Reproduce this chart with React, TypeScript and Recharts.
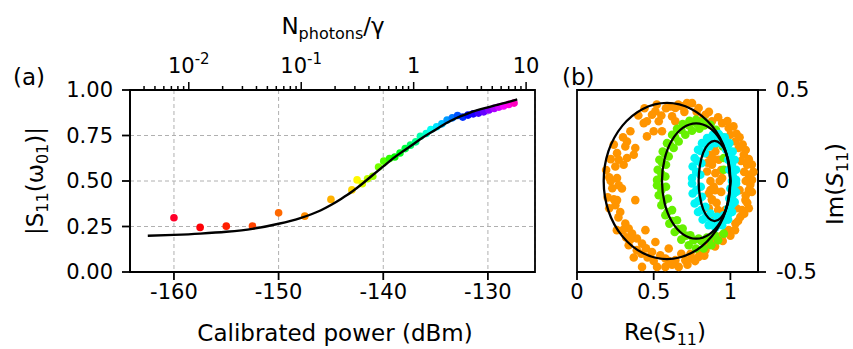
import React from "react";
import { ScatterChart, Scatter, XAxis, YAxis, CartesianGrid, ReferenceArea, Cell } from "recharts";

const FONT = "'DejaVu Sans', sans-serif";

// (a) |S11(w01)| against calibrated power
const powerDbm = [
  -160, -157.5, -155, -152.5, -150, -147.5, -145, -143, -142.5, -142, -141.5, -141,
  -140.45, -139.95, -139.4, -138.9, -138.4, -137.9, -137.4, -136.9, -136.45, -135.9,
  -135.45, -134.9, -134.4, -133.9, -133.4, -132.9, -132.4, -131.9, -131.4, -130.9,
  -130.4, -129.9, -129.4, -128.95, -128.5, -128.0, -127.5,
];
const magnitude = [
  0.298, 0.245, 0.252, 0.253, 0.325, 0.307, 0.399, 0.451, 0.506, 0.485, 0.512, 0.526,
  0.577, 0.609, 0.623, 0.632, 0.654, 0.678, 0.697, 0.715, 0.746, 0.761,
  0.783, 0.798, 0.814, 0.835, 0.847, 0.86, 0.851, 0.862, 0.869, 0.873,
  0.88, 0.89, 0.899, 0.906, 0.912, 0.921, 0.928,
];
const fitPower = [
  -162.5, -160, -157.5, -155, -152.5, -150, -148, -146, -145, -144, -143, -142, -141,
  -140, -139, -138, -137, -136, -135, -134, -133, -132, -131, -130, -129, -128, -127.2,
];
const fitMagnitude = [
  0.199, 0.204, 0.211, 0.221, 0.237, 0.265, 0.295, 0.338, 0.368, 0.403, 0.441, 0.485, 0.533,
  0.58, 0.627, 0.668, 0.708, 0.747, 0.782, 0.817, 0.846, 0.869, 0.889, 0.905, 0.92, 0.935, 0.948,
];
const powerTicks = [-160, -150, -140, -130];
const magTicks = [0, 0.25, 0.5, 0.75, 1];

// top axis, N_photons / gamma (log)
const photonRange = [0.003, 12];
const photonMajor = [0.01, 0.1, 1, 10];
const photonMajorLabels = [["10", "-2"], ["10", "-1"], ["1", ""], ["10", ""]];
const photonMinor = [
  0.004, 0.005, 0.006, 0.007, 0.008, 0.009,
  0.02, 0.03, 0.04, 0.05, 0.06, 0.07, 0.08, 0.09,
  0.2, 0.3, 0.4, 0.5, 0.6, 0.7, 0.8, 0.9,
  2, 3, 4, 5, 6, 7, 8, 9,
];

// (b) S11 in the complex plane
const orangePts = [
  [0.717, 0.428], [0.685, 0.41], [0.641, 0.401], [0.609, 0.41], [0.511, 0.383], [0.489, 0.364],
  [0.456, 0.328], [0.435, 0.318], [0.533, 0.328], [0.554, 0.273], [0.5, 0.273], [0.456, 0.245],
  [0.348, 0.273], [0.326, 0.217], [0.315, 0.19], [0.38, 0.181], [0.37, 0.144], [0.261, 0.153],
  [0.272, 0.117], [0.25, 0.08], [0.326, 0.126], [0.304, 0.089], [0.62, 0.355], [0.641, 0.328],
  [0.837, 0.364], [0.88, 0.328], [0.946, 0.318], [0.989, 0.291], [1.0, 0.254], [1.033, 0.217],
  [1.054, 0.181], [1.087, 0.144], [1.109, 0.089], [1.12, 0.034], [1.141, 0.006], [0.261, 0.016],
  [0.75, 0.428], [0.793, 0.401],
  [0.859, 0.144], [0.88, 0.089], [0.902, 0.043], [0.848, 0.052], [0.946, 0.016], [0.902, 0.162],
  [0.924, 0.117], [0.87, 0.0], [0.9, -0.05], [0.88, -0.1], [0.86, -0.15], [0.9, -0.2],
  [0.93, 0.0], [0.91, -0.12], [0.94, -0.06], [0.94, 0.06],
  [0.272, -0.023], [0.293, -0.041], [0.261, -0.105], [0.25, -0.133], [0.38, -0.105], [0.282, -0.17],
  [0.315, -0.234], [0.337, -0.261], [0.446, -0.27], [0.359, -0.289], [0.391, -0.316], [0.337, -0.353],
  [0.511, -0.335], [0.424, -0.344], [0.489, -0.39], [0.543, -0.408], [0.598, -0.371], [0.424, -0.472],
  [0.576, -0.472], [0.641, -0.435], [0.706, -0.435], [0.75, -0.426], [0.793, -0.417], [0.837, -0.38],
  [0.859, -0.353], [0.902, -0.326], [0.946, -0.298], [0.989, -0.27], [1.033, -0.234], [1.065, -0.197],
  [1.076, -0.16], [1.098, -0.105], [1.12, -0.05], [1.011, -0.105], [0.967, -0.16], [0.859, -0.069],
  [0.88, -0.105], [0.891, -0.032], [0.576, -0.426], [0.663, -0.472], [0.522, -0.472],
  [1.08, 0.2], [1.12, 0.12], [1.13, -0.02], [1.1, -0.08], [1.05, -0.22], [1.0, -0.3],
  [1.04, 0.26], [1.15, 0.05], [1.12, -0.15], [0.66, 0.42], [0.7, 0.38], [0.78, 0.38],
  [0.82, 0.34], [0.58, 0.4], [0.55, 0.36], [0.46, -0.42], [0.62, -0.46], [0.68, -0.4],
  [0.74, -0.4], [0.8, -0.39], [0.86, -0.33], [0.92, -0.31], [0.97, -0.28], [0.39, -0.38],
  [0.35, -0.32], [0.3, -0.27], [0.27, -0.2], [0.24, -0.1], [0.22, 0.0], [0.2, -0.09], [0.21, 0.02],
  [1.06, 0.24], [1.1, 0.17], [1.14, 0.09], [1.14, -0.06], [1.11, -0.12], [1.09, -0.18],
  [1.03, -0.27], [0.95, -0.33], [0.9, -0.36], [0.83, -0.41], [0.77, -0.44], [0.72, -0.46],
  [0.6, -0.44], [0.5, -0.44], [0.45, -0.37], [0.98, 0.33], [0.92, 0.35], [0.86, 0.38],
  [1.02, 0.3], [1.07, 0.11], [1.09, 0.05], [1.1, 0.0], [1.06, -0.05], [1.04, -0.15],
  [0.4, 0.36], [0.44, 0.4], [0.52, 0.42], [0.3, 0.24], [0.24, 0.2], [0.22, 0.12],
  [0.19, 0.06], [0.23, -0.04], [0.21, -0.15], [0.26, -0.27], [0.32, -0.31], [0.37, -0.42],
  [0.42, -0.4], [0.85, 0.1], [0.87, -0.05], [0.89, 0.12], [0.92, -0.16], [0.9, 0.2], [0.87, -0.2],
];
const greenPts = [
  [0.522, 0.006], [0.526, 0.062], [0.537, 0.117], [0.559, 0.162], [0.587, 0.208], [0.62, 0.254],
  [0.652, 0.287], [0.689, 0.313], [0.733, 0.331], [0.776, 0.337], [0.826, 0.328], [0.87, 0.309],
  [0.906, 0.282], [0.935, 0.245], [0.95, 0.19], [0.957, 0.126], [0.957, 0.062],
  [0.576, 0.025], [0.58, 0.089], [0.598, 0.135], [0.63, 0.181], [0.663, 0.217], [0.706, 0.254],
  [0.75, 0.276], [0.798, 0.287],
  [0.522, -0.023], [0.533, -0.078], [0.55, -0.133], [0.576, -0.188], [0.602, -0.234], [0.637, -0.28],
  [0.68, -0.322], [0.728, -0.353], [0.776, -0.371], [0.826, -0.371], [0.876, -0.353], [0.92, -0.326],
  [0.957, -0.289],
  [0.58, -0.032], [0.593, -0.096], [0.62, -0.16], [0.652, -0.216], [0.689, -0.261], [0.739, -0.298],
  [0.793, -0.316], [0.848, -0.311],
  [0.55, 0.04], [0.555, 0.1], [0.575, 0.15], [0.605, 0.2], [0.64, 0.24], [0.68, 0.28],
  [0.73, 0.305], [0.78, 0.315], [0.83, 0.305],
  [0.55, -0.05], [0.565, -0.11], [0.59, -0.17], [0.62, -0.22], [0.66, -0.265], [0.71, -0.3],
  [0.76, -0.325], [0.81, -0.33], [0.86, -0.32], [0.9, -0.3],
];
const cyanPts = [
  [0.75, 0.016], [0.754, 0.08], [0.767, 0.126], [0.789, 0.172], [0.815, 0.208], [0.848, 0.236],
  [0.885, 0.254], [0.924, 0.258], [0.963, 0.24], [0.993, 0.208], [1.015, 0.162], [1.028, 0.117],
  [1.037, 0.062], [1.037, 0.006],
  [0.804, 0.034], [0.811, 0.098], [0.833, 0.153], [0.863, 0.19], [0.902, 0.208], [0.946, 0.203],
  [0.972, 0.172], [0.985, 0.117], [0.993, 0.062], [1.01, 0.0], [1.03, 0.0],
  [0.75, -0.014], [0.754, -0.069], [0.767, -0.124], [0.789, -0.17], [0.819, -0.212], [0.859, -0.243],
  [0.902, -0.256], [0.946, -0.243], [0.985, -0.212], [1.011, -0.17], [1.028, -0.115], [1.037, -0.06],
  [1.037, -0.014],
  [0.807, -0.032], [0.815, -0.087], [0.837, -0.142], [0.87, -0.179], [0.913, -0.197], [0.957, -0.188],
  [0.985, -0.151], [0.993, -0.096], [1.0, -0.041],
  [0.777, 0.05], [0.785, 0.11], [0.805, 0.165], [0.835, 0.205], [0.872, 0.228], [0.912, 0.235],
  [0.952, 0.222], [0.982, 0.19], [1.0, 0.14], [1.01, 0.09], [1.015, 0.03],
  [0.778, -0.05], [0.79, -0.11], [0.81, -0.16], [0.84, -0.2], [0.88, -0.225], [0.92, -0.228],
  [0.96, -0.215], [0.99, -0.18], [1.01, -0.13], [1.017, -0.075], [1.02, -0.02],
];
const fitOuter = [
  [1.0, 0], [0.969, 0.164], [0.879, 0.303], [0.745, 0.396], [0.587, 0.429], [0.429, 0.396],
  [0.295, 0.303], [0.205, 0.164], [0.174, 0], [0.205, -0.164], [0.295, -0.303], [0.429, -0.396],
  [0.587, -0.429], [0.745, -0.396], [0.879, -0.303], [0.969, -0.164], [1.0, 0],
];
const fitMiddle = [
  [1.0, 0], [0.983, 0.121], [0.935, 0.224], [0.862, 0.293], [0.777, 0.317], [0.692, 0.293],
  [0.619, 0.224], [0.571, 0.121], [0.554, 0], [0.571, -0.121], [0.619, -0.224], [0.692, -0.293],
  [0.777, -0.317], [0.862, -0.293], [0.935, -0.224], [0.983, -0.121], [1.0, 0],
];
const fitInner = [
  [1.0, 0], [0.993, 0.084], [0.971, 0.156], [0.937, 0.203], [0.897, 0.22], [0.857, 0.203],
  [0.823, 0.156], [0.801, 0.084], [0.793, 0], [0.801, -0.084], [0.823, -0.156], [0.857, -0.203],
  [0.897, -0.22], [0.937, -0.203], [0.971, -0.156], [0.993, -0.084], [1.0, 0],
];
const reTicks = [0, 0.5, 1];
const imTicks = [-0.5, 0, 0.5];

// gist_rainbow-like colour map
const rainbowStops: [number, number[]][] = [
  [0, [255, 0, 41]], [0.03, [255, 0, 0]], [0.215, [255, 255, 0]], [0.4, [0, 255, 0]],
  [0.586, [0, 255, 255]], [0.77, [0, 0, 255]], [0.954, [255, 0, 255]], [1, [255, 0, 191]],
];
const rainbow = (t: number) => {
  for (let i = 1; i < rainbowStops.length; i++) {
    const [t1, c1] = rainbowStops[i];
    const [t0, c0] = rainbowStops[i - 1];
    if (t <= t1) {
      const f = (t - t0) / (t1 - t0);
      const c = c0.map((v, k) => Math.round(v + (c1[k] - v) * f));
      return `rgb(${c[0]},${c[1]},${c[2]})`;
    }
  }
  return "rgb(255,0,191)";
};

const measured = powerDbm.map((p, i) => ({ x: p, y: magnitude[i] }));
const fit = fitPower.map((p, i) => ({ x: p, y: fitMagnitude[i] }));
const toXY = (pts: number[][]) => pts.map(([x, y]) => ({ x, y }));

const photonTicks = [...photonMajor, ...photonMinor].map((v) => Math.log10(v)).sort((a, b) => a - b);
const powerDomain = [-164.2, -125.5];
const reDomain = [0, 1.18];

const tickStyle = { fill: "#000", fontSize: 21, fontFamily: FONT };
const axisStroke = { stroke: "#000", strokeWidth: 1.8 };

const Dot = (r: number) => (p: any) => <circle cx={p.cx} cy={p.cy} r={r} fill={p.fill} />;
const NoDot = () => <g />;

const PhotonTick = (props: any) => {
  const { x, y, payload } = props;
  const idx = photonMajor.findIndex((m) => Math.abs(Math.log10(m) - payload.value) < 1e-9);
  const len = idx >= 0 ? 8 : 4;
  return (
    <g>
      <line x1={x} x2={x} y1={y} y2={y - len} stroke="#000" strokeWidth={1.5} />
      {idx >= 0 && (
        <text x={x} y={y - 17} textAnchor="middle" fontSize={21} fontFamily={FONT} fill="#000">
          {photonMajorLabels[idx][0]}
          {photonMajorLabels[idx][1] && (
            <tspan dy={-9} fontSize={15}>{photonMajorLabels[idx][1]}</tspan>
          )}
        </text>
      )}
    </g>
  );
};

const PanelA = () => (
  <ScatterChart width={560} height={349} margin={{ top: 50, right: 25, bottom: 37, left: 70 }}>
    <CartesianGrid stroke="#b0b0b0" strokeDasharray="4 3" strokeWidth={1} />
    <XAxis
      type="number" dataKey="x" domain={powerDomain} ticks={powerTicks} allowDataOverflow
      interval={0} height={40} tickSize={8} tickMargin={4} tick={tickStyle}
      axisLine={axisStroke} tickLine={axisStroke}
    />
    <XAxis
      xAxisId="top" orientation="top" type="number" dataKey="x"
      domain={photonRange.map((v) => Math.log10(v))} ticks={photonTicks} allowDataOverflow
      interval={0} height={40} tickSize={0} tickMargin={0} tickLine={false}
      axisLine={axisStroke} tick={<PhotonTick />}
    />
    <YAxis
      type="number" dataKey="y" domain={[0, 1]} ticks={magTicks} allowDataOverflow interval={0}
      width={60} tickSize={8} tickMargin={9} tick={tickStyle}
      tickFormatter={(v: number) => v.toFixed(2)} axisLine={axisStroke} tickLine={axisStroke}
    />
    <Scatter data={measured} shape={Dot(3.8)} isAnimationActive={false}>
      {measured.map((_, i) => (
        <Cell key={i} fill={rainbow(i / (measured.length - 1))} />
      ))}
    </Scatter>
    <Scatter
      data={fit} line={{ stroke: "#000", strokeWidth: 2.4 }} lineJointType="monotone"
      shape={NoDot} isAnimationActive={false}
    />
    <ReferenceArea
      x1={powerDomain[0]} x2={powerDomain[1]} y1={0} y2={1}
      fill="none" stroke="#000" strokeWidth={1.8}
    />
  </ScatterChart>
);

const PanelB = () => (
  <ScatterChart width={293} height={349} margin={{ top: 90, right: 35, bottom: 37, left: 17 }}>
    <XAxis
      type="number" dataKey="x" domain={reDomain} ticks={reTicks} allowDataOverflow interval={0}
      height={40} tickSize={8} tickMargin={4} tick={tickStyle}
      axisLine={axisStroke} tickLine={axisStroke}
    />
    <YAxis
      type="number" dataKey="y" orientation="right" domain={[-0.5, 0.5]} ticks={imTicks}
      allowDataOverflow interval={0} width={60} tickSize={8} tickMargin={10} tick={tickStyle}
      axisLine={axisStroke} tickLine={axisStroke}
    />
    <Scatter data={toXY(orangePts)} fill="#ff9500" shape={Dot(4.3)} isAnimationActive={false} />
    <Scatter data={toXY(greenPts)} fill="#66f000" shape={Dot(4.3)} isAnimationActive={false} />
    <Scatter data={toXY(cyanPts)} fill="#00f5f5" shape={Dot(4.3)} isAnimationActive={false} />
    {[fitOuter, fitMiddle, fitInner].map((c, i) => (
      <Scatter
        key={i} data={toXY(c)} line={{ stroke: "#000", strokeWidth: 2.3 }} lineJointType="natural"
        shape={NoDot} isAnimationActive={false}
      />
    ))}
    <ReferenceArea
      x1={reDomain[0]} x2={reDomain[1]} y1={-0.5} y2={0.5}
      fill="none" stroke="#000" strokeWidth={1.8}
    />
  </ScatterChart>
);

const sub = { fontSize: 16 };

export default function App() {
  return (
    <div style={{ position: "absolute", left: 0, top: 0, width: 853, height: 349, background: "#fff" }}>
      <div style={{ position: "absolute", left: 0, top: 0 }}>
        <PanelA />
      </div>
      <div style={{ position: "absolute", left: 560, top: 0 }}>
        <PanelB />
      </div>
      <svg
        width={853} height={349}
        style={{ position: "absolute", left: 0, top: 0, pointerEvents: "none" }}
        fontFamily={FONT} fontSize={23} fill="#000"
      >
        <text x={13} y={85}>(a)</text>
        <text x={562} y={85}>(b)</text>
        <text x={333} y={34} textAnchor="middle">
          N<tspan {...sub} dy={5}>photons</tspan><tspan dy={-5}>/γ</tspan>
        </text>
        <text x={335} y={341} textAnchor="middle">Calibrated power (dBm)</text>
        <text transform="translate(43,181) rotate(-90)" textAnchor="middle">
          |S<tspan {...sub} dy={5}>11</tspan><tspan dy={-5}>(ω</tspan>
          <tspan {...sub} dy={5}>01</tspan><tspan dy={-5}>)|</tspan>
        </text>
        <text x={665} y={340} textAnchor="middle">
          Re(<tspan fontStyle="italic">S</tspan><tspan {...sub} dy={5}>11</tspan><tspan dy={-5}>)</tspan>
        </text>
        <text transform="translate(843,184) rotate(-90)" textAnchor="middle">
          Im(<tspan fontStyle="italic">S</tspan><tspan {...sub} dy={5}>11</tspan><tspan dy={-5}>)</tspan>
        </text>
      </svg>
    </div>
  );
}
